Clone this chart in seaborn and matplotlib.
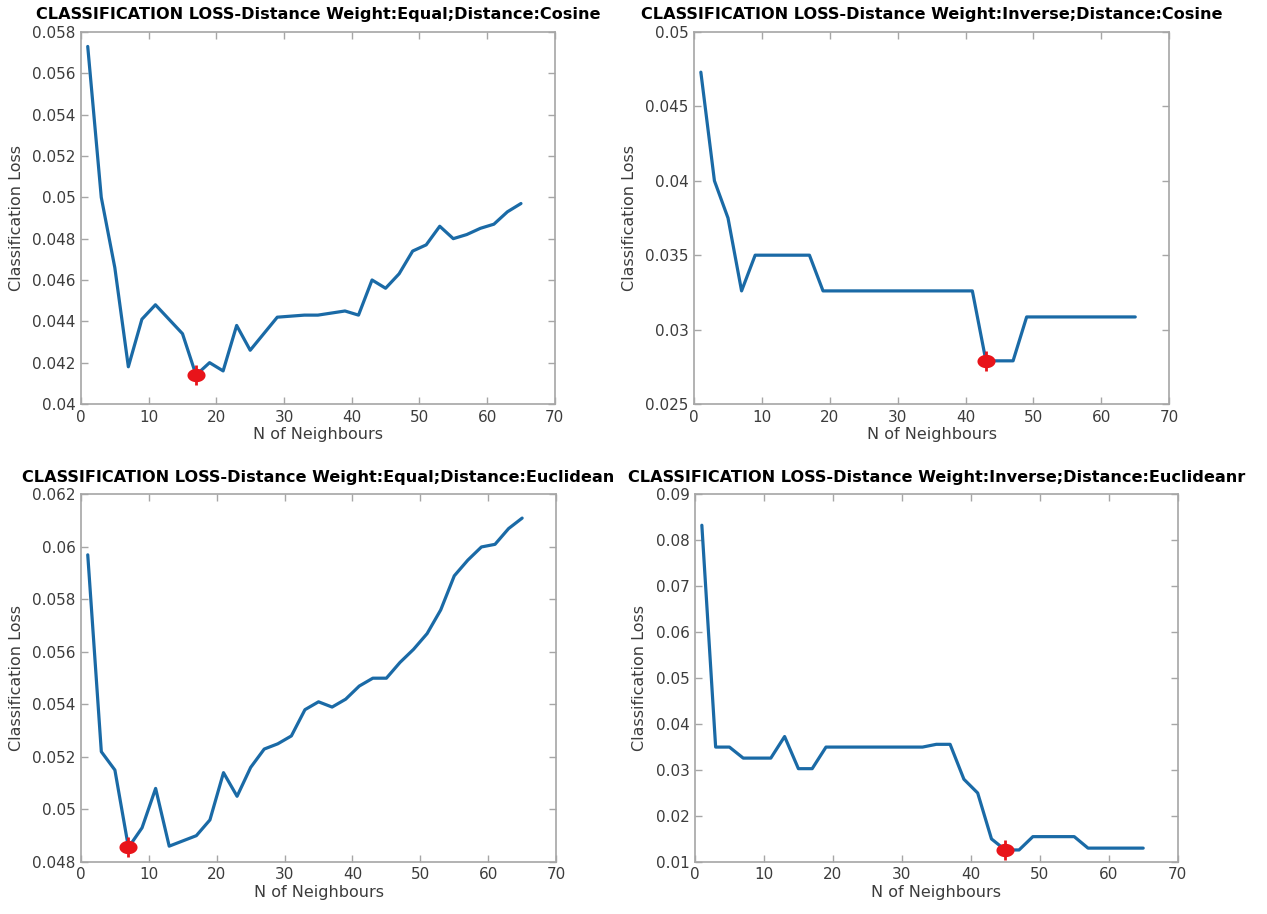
import numpy as np
import pandas as pd
import matplotlib
matplotlib.use("Agg")
import matplotlib.pyplot as plt
import seaborn as sns

# Number of neighbours evaluated (odd k from 1 to 65)
neighbours = list(range(1, 66, 2))

loss_equal_cosine = [
    0.0573, 0.0500, 0.0466, 0.0418, 0.0441, 0.0448, 0.0441, 0.0434, 0.0414, 0.0420,
    0.0416, 0.0438, 0.0426, 0.0434, 0.0442, 0.04425, 0.0443, 0.0443, 0.0444, 0.0445,
    0.0443, 0.0460, 0.0456, 0.0463, 0.0474, 0.0477, 0.0486, 0.0480, 0.0482, 0.0485,
    0.0487, 0.0493, 0.0497,
]
loss_inverse_cosine = [
    0.0473, 0.0400, 0.0375, 0.0326, 0.0350, 0.0350, 0.0350, 0.0350, 0.0350, 0.0326,
    0.0326, 0.0326, 0.0326, 0.0326, 0.0326, 0.0326, 0.0326, 0.0326, 0.0326, 0.0326,
    0.0326, 0.0279, 0.0279, 0.0279, 0.03085, 0.03085, 0.03085, 0.03085, 0.03085, 0.03085,
    0.03085, 0.03085, 0.03085,
]
loss_equal_euclidean = [
    0.0597, 0.0522, 0.0515, 0.04855, 0.0493, 0.0508, 0.0486, 0.0488, 0.0490, 0.0496,
    0.0514, 0.0505, 0.0516, 0.0523, 0.0525, 0.0528, 0.0538, 0.0541, 0.0539, 0.0542,
    0.0547, 0.0550, 0.0550, 0.0556, 0.0561, 0.0567, 0.0576, 0.0589, 0.0595, 0.0600,
    0.0601, 0.0607, 0.0611,
]
loss_inverse_euclidean = [
    0.0833, 0.0350, 0.0350, 0.0326, 0.0326, 0.0326, 0.0373, 0.0303, 0.0303, 0.0350,
    0.0350, 0.0350, 0.0350, 0.0350, 0.0350, 0.0350, 0.0350, 0.0356, 0.0356, 0.0280,
    0.0250, 0.0150, 0.0126, 0.0126, 0.0155, 0.0155, 0.0155, 0.0155, 0.0130, 0.0130,
    0.0130, 0.0130, 0.0130,
]

titles = [
    "CLASSIFICATION LOSS-Distance Weight:Equal;Distance:Cosine",
    "CLASSIFICATION LOSS-Distance Weight:Inverse;Distance:Cosine",
    "CLASSIFICATION LOSS-Distance Weight:Equal;Distance:Euclidean",
    "CLASSIFICATION LOSS-Distance Weight:Inverse;Distance:Euclideanr",
]
series = [loss_equal_cosine, loss_inverse_cosine, loss_equal_euclidean, loss_inverse_euclidean]
y_limits = [(0.04, 0.058), (0.025, 0.05), (0.048, 0.062), (0.01, 0.09)]
y_ticks = [
    [0.04, 0.042, 0.044, 0.046, 0.048, 0.05, 0.052, 0.054, 0.056, 0.058],
    [0.025, 0.03, 0.035, 0.04, 0.045, 0.05],
    [0.048, 0.05, 0.052, 0.054, 0.056, 0.058, 0.06, 0.062],
    [0.01, 0.02, 0.03, 0.04, 0.05, 0.06, 0.07, 0.08, 0.09],
]
y_ticklabels = [
    ["0.04", "0.042", "0.044", "0.046", "0.048", "0.05", "0.052", "0.054", "0.056", "0.058"],
    ["0.025", "0.03", "0.035", "0.04", "0.045", "0.05"],
    ["0.048", "0.05", "0.052", "0.054", "0.056", "0.058", "0.06", "0.062"],
    ["0.01", "0.02", "0.03", "0.04", "0.05", "0.06", "0.07", "0.08", "0.09"],
]
x_ticks = [0, 10, 20, 30, 40, 50, 60, 70]

# axes rectangles in figure fractions
positions = [
    [0.0639, 0.558, 0.374, 0.407],
    [0.5478, 0.558, 0.375, 0.407],
    [0.0639, 0.057, 0.375, 0.402],
    [0.5485, 0.057, 0.381, 0.402],
]

sns.set_style("white")
plt.rcParams["font.family"] = ["DejaVu Sans"]

line_color = "#1a6aa6"
spine_color = "#a6a6a6"
tick_text = "#3c3c3c"

# ellipse-shaped marker for the minimum point
t = np.linspace(0, 2 * np.pi, 40)
ellipse = list(zip(np.cos(t), 0.74 * np.sin(t)))

fig = plt.figure(figsize=(12.67, 9.14), dpi=100)

for pos, title, vals, ylim, yt, ytl in zip(positions, titles, series, y_limits, y_ticks, y_ticklabels):
    ax = fig.add_axes(pos)
    df = pd.DataFrame({"k": neighbours, "loss": vals})
    sns.lineplot(data=df, x="k", y="loss", ax=ax, color=line_color, linewidth=2.3)

    best = df.loc[df["loss"].idxmin()]
    best_df = pd.DataFrame({"k": [best["k"]], "loss": [best["loss"]]})
    sns.scatterplot(data=best_df, x="k", y="loss", ax=ax, marker="|", s=220,
                    color="#e8141a", linewidth=2.0, zorder=5)
    sns.scatterplot(data=best_df, x="k", y="loss", ax=ax, marker=ellipse, s=170,
                    color="#e8141a", edgecolor="#e8141a", linewidth=0, zorder=6)

    ax.set_xlim(0, 70)
    ax.set_ylim(*ylim)
    ax.set_xticks(x_ticks)
    ax.set_xticklabels([str(v) for v in x_ticks])
    ax.set_yticks(yt)
    ax.set_yticklabels(ytl)
    ax.tick_params(axis="both", which="both", direction="in", length=5, width=1,
                   color=spine_color, labelcolor=tick_text, labelsize=11,
                   top=True, right=True, bottom=True, left=True, pad=4)
    for sp in ax.spines.values():
        sp.set_visible(True)
        sp.set_color(spine_color)
        sp.set_linewidth(1.2)
    ax.set_xlabel("N of Neighbours", fontsize=11.5, color=tick_text, labelpad=2)
    ax.set_ylabel("Classification Loss", fontsize=11.5, color=tick_text, labelpad=6)
    ax.set_title(title, fontsize=11.6, fontweight="bold", color="black", pad=9)

fig.savefig("out.png", dpi=100)
